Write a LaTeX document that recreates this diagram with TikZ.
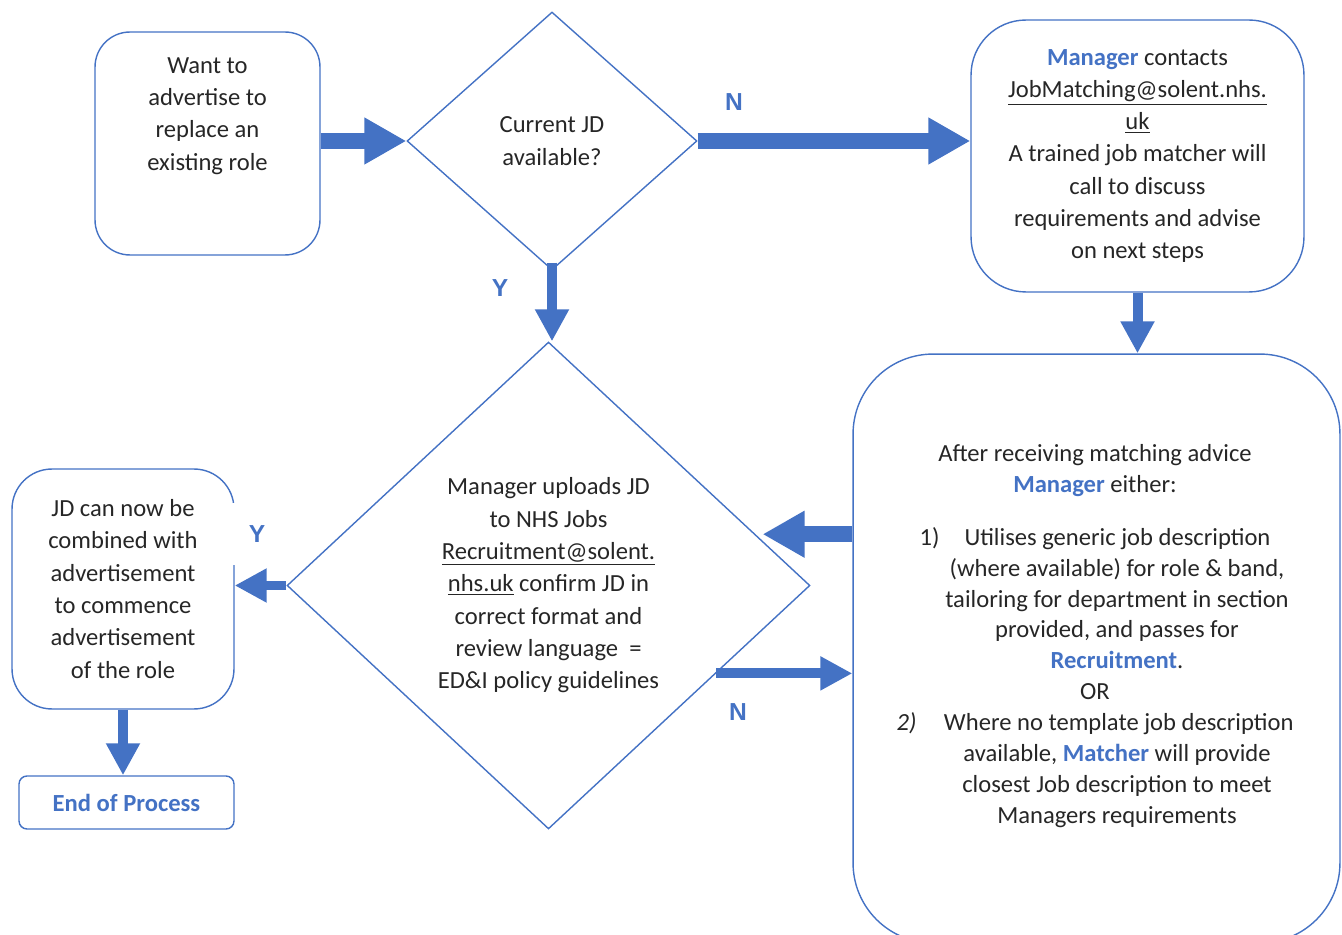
\documentclass[tikz,border=0pt]{standalone}
\usepackage{fontspec}
\setmainfont{Carlito}
\newfontfamily\ynfont{Liberation Sans}
\usetikzlibrary{arrows.meta,calc,shapes.geometric}
\definecolor{flowblue}{HTML}{4472C4}
\definecolor{textgrey}{HTML}{262626}
\def\hl#1{\textbf{\textcolor{flowblue}{#1}}}
\def\shiftline{\hspace*{0.88cm}}

\tikzset{
  roundbox/.style={draw=flowblue, line width=0.8pt, align=center, inner sep=0pt},
  decision/.style={diamond, draw=flowblue, line width=0.8pt, align=center, inner sep=0pt},
  bigarrow/.style={draw=flowblue, line width=0.31cm, -{Triangle[length=0.84cm,width=0.88cm]}},
  smallarrow/.style={draw=flowblue, line width=0.2cm, -{Triangle[length=0.64cm,width=0.64cm]}},
  yn/.style={font=\ynfont\bfseries\fontsize{14}{16}\selectfont, text=flowblue}
}

\begin{document}
\begin{tikzpicture}[x=0.02cm, y=-0.02cm, font=\fontsize{14}{18.4}\selectfont, text=textgrey]
		%%%%% START %%%%%
		\useasboundingbox (0,0) rectangle (1342,935);
		
		\node[roundbox, minimum width=4.5cm, minimum height=4.46cm, rounded corners=0.7cm] (advert) at (207.5,143.5) {};
		\node[align=center] (advert-text) at (207.5,116) {Want to\\advertise to\\replace an\\existing role};
		
		\node[decision, minimum width=5.8cm, minimum height=5.16cm] (currentjd) at (552,141) {Current JD\\available?};
		
		\node[roundbox, minimum width=6.66cm, minimum height=5.44cm, rounded corners=1.1cm] (matching) at (1137.5,156) {\hl{Manager} contacts\\\underline{JobMatching@solent.nhs.}\\\underline{uk}\\A trained job matcher will\\call to discuss\\requirements and advise\\on next steps};
		
		\node[roundbox, minimum width=9.74cm, minimum height=11.78cm, rounded corners=1.6cm] (advice) at (1096.5,648.5) {};
		\node[align=center, font=\fontsize{14}{17.6}\selectfont] (advice-text) at (1095,636) {After receiving matching advice\\
			\hl{Manager} either:\\[0.44cm]
			1)\hspace{0.5cm}Utilises generic job description\\
			\shiftline(where available) for role \& band,\\
			\shiftline tailoring for department in section\\
			\shiftline provided, and passes for\\
			\shiftline\hl{Recruitment}.\\
			OR\\
			\textit{2)}\hspace{0.55cm}Where no template job description\\
			\shiftline available, \hl{Matcher} will provide\\
			\shiftline closest Job description to meet\\
			\shiftline Managers requirements};
		
		\node[decision, minimum width=10.46cm, minimum height=9.74cm] (upload) at (548.5,585.5) {Manager uploads JD\\to NHS Jobs\\\underline{Recruitment@solent.}\\\underline{nhs.uk} confirm JD in\\correct format and\\review language~~=\\ED\&I policy guidelines};
		
		\node[roundbox, minimum width=4.44cm, minimum height=4.8cm, rounded corners=0.8cm] (combine) at (123,589) {JD can now be\\combined with\\advertisement\\to commence\\advertisement\\of the role};
		
		\node[roundbox, minimum width=4.3cm, minimum height=1.06cm, rounded corners=0.16cm] (end) at (126.5,802.5) {\hl{End of Process}};
		
		% arrows
		\draw[bigarrow] (advert.east |- currentjd.west) -- (currentjd.west);
		\draw[bigarrow] (currentjd.east) -- (currentjd.east -| matching.west);
		\draw[smallarrow] ([yshift=0.16cm]currentjd.south) -- (currentjd.south |- upload.north);
		\draw[smallarrow] (matching.south) -- (matching.south |- advice.north);
		\coordinate (upload-in) at ($(upload.north)!0.79!(upload.east)$);
		\draw[bigarrow] (advice.west |- upload-in) -- ([xshift=0.14cm]upload-in);
		\coordinate (upload-out) at ($(upload.east)!0.36!(upload.south)$);
		\draw[smallarrow] (upload-out) -- (upload-out -| advice.west);
		\draw[smallarrow] (upload.west) -- (upload.west -| combine.east);
		\draw[smallarrow] (combine.south) -- (combine.south |- end.north);
		
		% Y / N labels
		\node[yn] (n-top) at (734,102) {N};
		\node[yn] (y-top) at (500,288) {Y};
		\node[yn, fill=white, minimum width=1.1cm, minimum height=1.24cm] (y-left) at (257,534) {Y};
		\node[yn] (n-bottom) at (738,712) {N};
		
		%%%%% END %%%%%
	\end{tikzpicture}
\end{document}
